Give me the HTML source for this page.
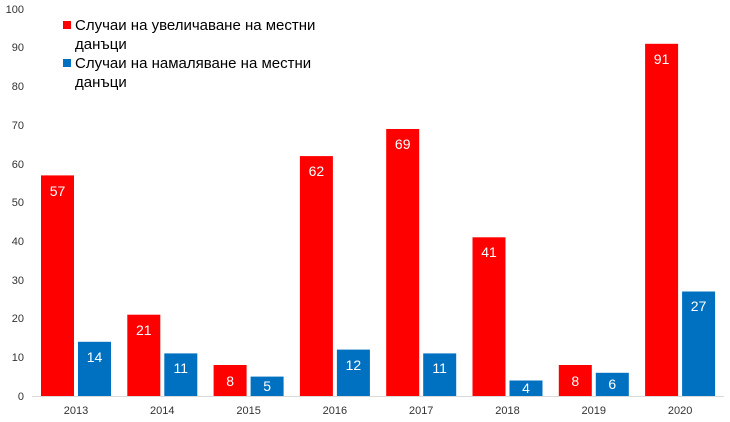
<!DOCTYPE html>
<html><head><meta charset="utf-8"><style>
body{margin:0;background:#fff;}
svg{display:block;font-family:"Liberation Sans","DejaVu Sans",sans-serif;}
</style></head><body>
<svg width="730" height="422" xmlns="http://www.w3.org/2000/svg">
<g font-size="11" fill="#333" text-anchor="end">
<text x="24" y="13">100</text><text x="24" y="51">90</text><text x="24" y="90">80</text>
<text x="24" y="129">70</text><text x="24" y="168">60</text><text x="24" y="206">50</text>
<text x="24" y="245">40</text><text x="24" y="284">30</text><text x="24" y="322">20</text>
<text x="24" y="361">10</text><text x="24" y="400">0</text>
</g>
<line x1="32" y1="396.5" x2="724" y2="396.5" stroke="#d9d9d9" stroke-width="1"/>
<g fill="#ff0000">
<rect x="41" y="175.4" width="33" height="220.6"/>
<rect x="127.3" y="314.7" width="33" height="81.3"/>
<rect x="213.6" y="365" width="33" height="31"/>
<rect x="299.9" y="156.1" width="33" height="239.9"/>
<rect x="386.2" y="129" width="33" height="267"/>
<rect x="472.5" y="237.3" width="33" height="158.7"/>
<rect x="558.8" y="365" width="33" height="31"/>
<rect x="645.1" y="43.8" width="33" height="352.2"/>
</g>
<g fill="#0070c0">
<rect x="78" y="341.8" width="33" height="54.2"/>
<rect x="164.3" y="353.4" width="33" height="42.6"/>
<rect x="250.6" y="376.6" width="33" height="19.4"/>
<rect x="336.9" y="349.6" width="33" height="46.4"/>
<rect x="423.2" y="353.4" width="33" height="42.6"/>
<rect x="509.5" y="380.5" width="33" height="15.5"/>
<rect x="595.8" y="372.8" width="33" height="23.2"/>
<rect x="682.1" y="291.5" width="33" height="104.5"/>
</g>
<g fill="#fff" font-size="14" text-anchor="middle">
<text x="57.5" y="196">57</text>
<text x="143.8" y="335">21</text>
<text x="230.1" y="386">8</text>
<text x="316.4" y="176">62</text>
<text x="402.7" y="149">69</text>
<text x="489" y="257">41</text>
<text x="575.3" y="386">8</text>
<text x="661.6" y="64">91</text>
<text x="94.5" y="362">14</text>
<text x="180.8" y="373">11</text>
<text x="267.1" y="391">5</text>
<text x="353.4" y="370">12</text>
<text x="439.7" y="373">11</text>
<text x="526" y="393">4</text>
<text x="612.3" y="389">6</text>
<text x="698.6" y="311">27</text>
</g>
<g fill="#333" font-size="11" text-anchor="middle">
<text x="76" y="414">2013</text><text x="162.3" y="414">2014</text>
<text x="248.6" y="414">2015</text><text x="334.9" y="414">2016</text>
<text x="421.2" y="414">2017</text><text x="507.5" y="414">2018</text>
<text x="593.8" y="414">2019</text><text x="680.1" y="414">2020</text>
</g>
<g font-size="15" fill="#000">
<rect x="63" y="21" width="8" height="8" fill="#ff0000"/>
<text x="75" y="30">Случаи на увеличаване на местни</text>
<text x="75" y="49">данъци</text>
<rect x="63" y="59" width="8" height="8" fill="#0070c0"/>
<text x="75" y="68">Случаи на намаляване на местни</text>
<text x="75" y="87">данъци</text>
</g>
</svg>
</body></html>
